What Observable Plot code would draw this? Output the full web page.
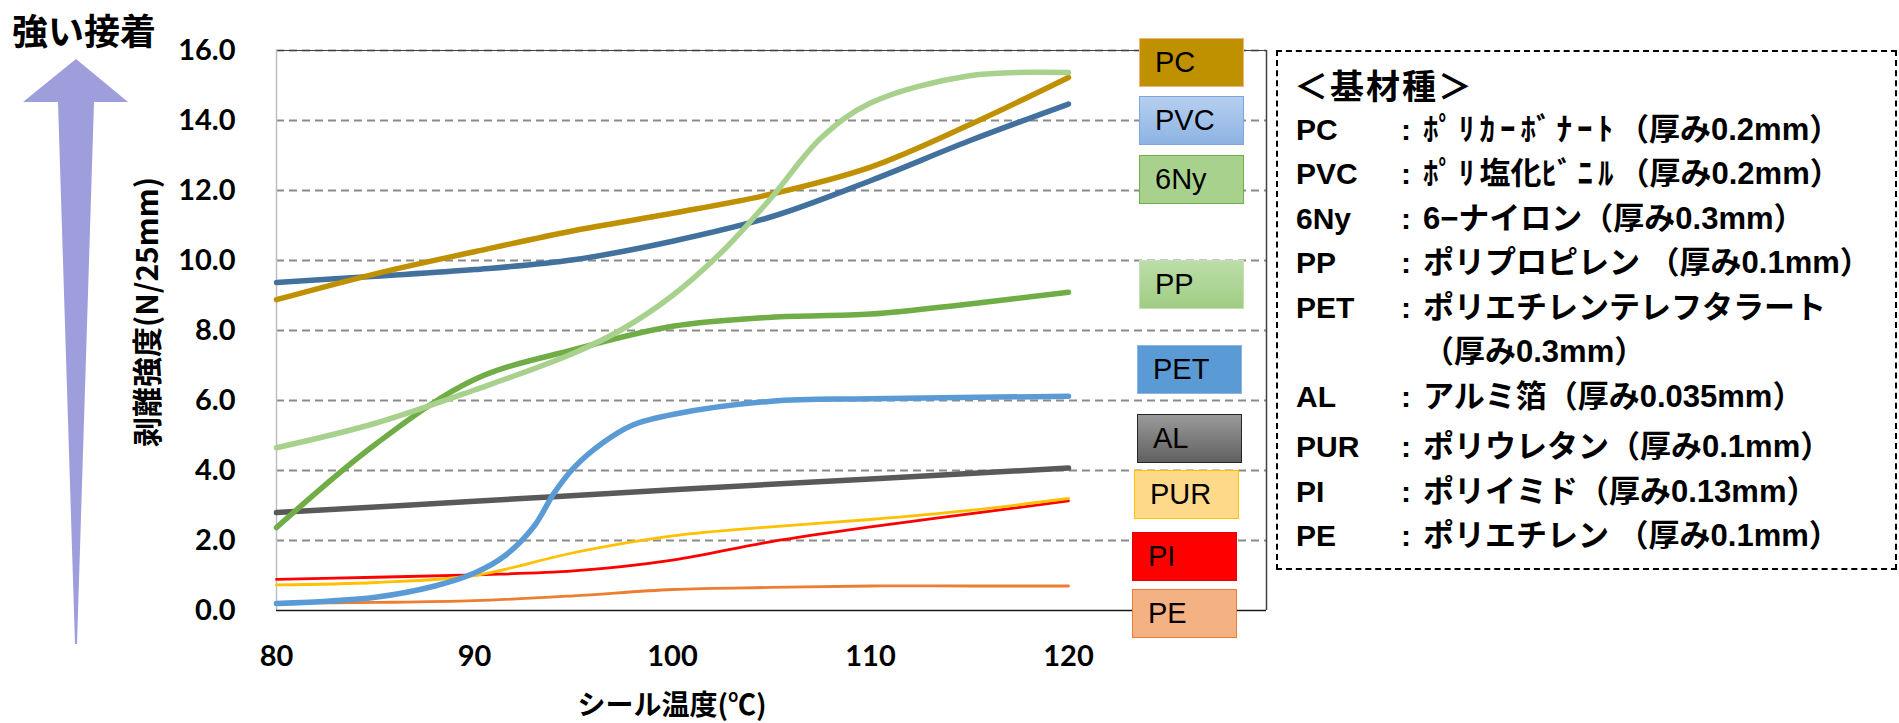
<!DOCTYPE html>
<html>
<head>
<meta charset="utf-8">
<script src="https://cdn.jsdelivr.net/npm/d3@7"></script>
<script src="https://cdn.jsdelivr.net/npm/@observablehq/plot@0.6"></script>
<style>
  body { margin: 0; background: #fff; }
  #wrap { position: relative; width: 1899px; height: 723px; background: #fff; overflow: hidden; }
  #chart { position: absolute; left: 0; top: 0; }
  .jp { font-family: "Noto Sans CJK JP", sans-serif; font-weight: 700; color: #000; position: absolute; white-space: nowrap; }
  .box { position: absolute; box-sizing: border-box; font-family: "Liberation Sans", Arial, sans-serif; font-weight: 400; font-size: 29px; color: #000; display: flex; align-items: center; }
  .lg { position: absolute; white-space: nowrap; color: #000; line-height: 1.2; }
  .hw { letter-spacing: 5px; }
</style>
</head>
<body>
<div id="wrap">
  <div id="chart"></div>
</div>
<script>
// ---------- data ----------
const temps = [80, 85, 90, 95, 100, 105, 110, 115, 120];
const pcValues  = [8.88, 9.62, 10.25, 10.85, 11.35, 11.9, 12.67, 13.88, 15.23];
const pvcValues = [9.37, 9.55, 9.74, 10.02, 10.55, 11.25, 12.28, 13.42, 14.47];
const nyValues  = [2.37, 4.75, 6.6, 7.45, 8.12, 8.38, 8.47, 8.76, 9.09];
const ppTemps   = [80, 85, 90, 95, 97.5, 100, 102.5, 105, 107.5, 110, 115, 120];
const ppValues  = [4.65, 5.35, 6.3, 7.35, 8.05, 9.0, 10.25, 11.8, 13.5, 14.5, 15.28, 15.37];
const petTemps  = [80, 85, 88, 90, 91.5, 93, 94, 95, 96.5, 98, 100, 105, 110, 120];
const petValues = [0.2, 0.38, 0.7, 1.07, 1.55, 2.4, 3.34, 4.07, 4.8, 5.3, 5.6, 5.98, 6.05, 6.12];
const alTemps   = [80, 90, 100, 110, 120];
const alValues  = [2.8, 3.12, 3.45, 3.76, 4.07];
const purValues = [0.73, 0.8, 1.0, 1.65, 2.13, 2.39, 2.6, 2.86, 3.2];
const piValues  = [0.89, 0.95, 1.02, 1.13, 1.44, 1.97, 2.39, 2.76, 3.13];
const peValues  = [0.21, 0.23, 0.28, 0.42, 0.6, 0.66, 0.7, 0.7, 0.7];

const xTicks = [80, 90, 100, 110, 120];
const yTicks = [0, 2, 4, 6, 8, 10, 12, 14, 16];

const seriesNames  = ["PC", "PVC", "6Ny", "PP", "PET", "AL", "PUR", "PI", "PE"];
const lineColors   = ["#BF9000", "#41719C", "#70AD47", "#A9D18E", "#5B9BD5", "#595959", "#FFC000", "#FF0000", "#ED7D31"];
const lineWidths   = [5.5, 5.5, 5.5, 5.5, 5.5, 5.5, 2.8, 2.8, 2.8];
const drawOrder    = ["PE", "PI", "PUR", "AL", "6Ny", "PVC", "PC", "PP", "PET"];

const boxFills   = ["#BF9000", "linear-gradient(#B6CFF0,#8DB3E2)", "#A9D18E", "linear-gradient(#BBDDA8,#A0CD84)", "#5B9BD5", "linear-gradient(#9A9A9A,#606060)", "#FFD98A", "#FF0000", "#F4B183"];
const boxBorders = ["#F4B183", "#7EA6DC", "#70AD47", "#C5E0B4", "#8DB4E2", "#262626", "#FFC000", "#E00000", "#ED7D31"];

const legendTitle = "＜基材種＞";
const legendCodes = ["PC", "PVC", "6Ny", "PP", "PET", "", "AL", "PUR", "PI", "PE"];
const legendDescs = ["ﾎﾟﾘｶｰﾎﾞﾅｰﾄ（厚み0.2mm）", "ﾎﾟﾘ塩化ﾋﾞﾆﾙ（厚み0.2mm）", "6−ナイロン（厚み0.3mm）", "ポリプロピレン （厚み0.1mm）", "ポリエチレンテレフタラート", "（厚み0.3mm）", "アルミ箔（厚み0.035mm）", "ポリウレタン（厚み0.1mm）", "ポリイミド（厚み0.13mm）", "ポリエチレン （厚み0.1mm）"];

const yTitle = "剥離強度(N/25mm)";
const xTitle = "シール温度(℃)";
const arrowTitle = "強い接着";

// ---------- build tables ----------
const seriesData = {
  PC:  temps.map((t, i) => ({x: t, y: pcValues[i]})),
  PVC: temps.map((t, i) => ({x: t, y: pvcValues[i]})),
  "6Ny": temps.map((t, i) => ({x: t, y: nyValues[i]})),
  PP:  ppTemps.map((t, i) => ({x: t, y: ppValues[i]})),
  PET: petTemps.map((t, i) => ({x: t, y: petValues[i]})),
  AL:  alTemps.map((t, i) => ({x: t, y: alValues[i]})),
  PUR: temps.map((t, i) => ({x: t, y: purValues[i]})),
  PI:  temps.map((t, i) => ({x: t, y: piValues[i]})),
  PE:  temps.map((t, i) => ({x: t, y: peValues[i]}))
};

const W = 1899, H = 723;
const lineMarks = drawOrder.map(name => {
  const k = seriesNames.indexOf(name);
  return Plot.line(seriesData[name], {
    x: "x", y: "y", stroke: lineColors[k], strokeWidth: lineWidths[k],
    curve: "catmull-rom", strokeLinecap: "round", strokeLinejoin: "round"
  });
});

const chart = Plot.plot({
  width: W, height: H,
  marginLeft: 276, marginRight: W - 1266, marginTop: 50, marginBottom: H - 610,
  style: {fontFamily: "Lato, sans-serif", fontWeight: "bold", fontSize: "29px", color: "#000", background: "transparent", overflow: "visible"},
  x: {domain: [80, 130], ticks: xTicks, tickSize: 0, tickPadding: 35, label: null},
  y: {domain: [0, 16], ticks: yTicks, tickSize: 0, tickPadding: 41, tickFormat: d3.format(".1f"), label: null},
  marks: [
    Plot.ruleY(yTicks.filter(d => d > 0), {stroke: "#8A8A8A", strokeWidth: 2, strokeDasharray: "8,5"}),
    Plot.ruleY([16], {stroke: "#404040", strokeWidth: 1.2}),
    Plot.ruleX([80], {stroke: "#BFBFBF", strokeWidth: 1.5}),
    Plot.ruleX([130], {stroke: "#404040", strokeWidth: 1.5}),
    Plot.ruleY([0], {stroke: "#1a1a1a", strokeWidth: 1.5}),
    ...lineMarks
  ]
});
document.getElementById("chart").appendChild(chart);

const wrap = document.getElementById("wrap");

// ---------- arrow and titles ----------
const ns = "http://www.w3.org/2000/svg";
const deco = document.createElementNS(ns, "svg");
deco.setAttribute("width", 200); deco.setAttribute("height", H);
deco.style.position = "absolute"; deco.style.left = "0"; deco.style.top = "0";
const arrow = document.createElementNS(ns, "polygon");
arrow.setAttribute("points", "76,59 128,102 94,102 77,644 75,644 58,102 23,102");
arrow.setAttribute("fill", "#9E9EDD");
deco.appendChild(arrow);
wrap.appendChild(deco);

function addText(txt, cls, css) {
  const d = document.createElement("div");
  d.className = cls;
  // wrap runs of half-width katakana so they can be spaced like the reference
  const parts = txt.split(/([\uFF61-\uFF9F]+)/);
  parts.forEach(p => {
    if (!p) return;
    if (/^[\uFF61-\uFF9F]+$/.test(p)) {
      const s = document.createElement("span"); s.className = "hw"; s.textContent = p; d.appendChild(s);
    } else d.appendChild(document.createTextNode(p));
  });
  Object.assign(d.style, css);
  wrap.appendChild(d);
  return d;
}
addText(arrowTitle, "jp", {left: "12px", top: "4px", fontSize: "36px", lineHeight: "1.4"});
addText(yTitle, "jp", {left: "145px", top: "312px", fontSize: "30px", lineHeight: "1.2", transform: "translate(-50%,-50%) rotate(-90deg)"});
addText(xTitle, "jp", {left: "672px", top: "704px", fontSize: "28px", lineHeight: "1.2", transform: "translate(-50%,-50%)"});

// ---------- series label boxes ----------
const boxLeft = [1139, 1139, 1139, 1139, 1137, 1137, 1134, 1132, 1132];
const boxTop  = [38, 96, 155, 260, 345, 414, 470, 532, 589];
seriesNames.forEach((name, i) => {
  const b = document.createElement("div");
  b.className = "box";
  Object.assign(b.style, {left: boxLeft[i] + "px", top: boxTop[i] + "px", width: "105px", height: "49px",
    background: boxFills[i], border: "1.5px solid " + boxBorders[i], paddingLeft: "15px"});
  b.textContent = name;
  wrap.appendChild(b);
});

// ---------- legend box ----------
const lg = document.createElement("div");
Object.assign(lg.style, {position: "absolute", left: "1276px", top: "50px", width: "621px", height: "520px",
  boxSizing: "border-box", border: "2px dashed #000"});
wrap.appendChild(lg);
addText(legendTitle, "lg", {left: "1294px", top: "85px", transform: "translateY(-50%)",
  fontFamily: "'Noto Sans CJK JP'", fontWeight: "700", fontSize: "34px", letterSpacing: "2px"});
const rowY = [130, 174, 219, 263, 308, 352, 397, 447, 492, 536];
legendDescs.forEach((desc, i) => {
  if (legendCodes[i]) {
    addText(legendCodes[i], "lg", {left: "1296px", top: rowY[i] + "px", transform: "translateY(-50%)",
      fontFamily: "'Liberation Sans', Arial", fontWeight: "700", fontSize: "30px"});
    addText(":", "lg", {left: "1401px", top: rowY[i] + "px", transform: "translateY(-50%)",
      fontFamily: "'Liberation Sans', Arial", fontWeight: "700", fontSize: "30px"});
  }
  addText(desc, "lg", {left: "1423px", top: rowY[i] + "px", transform: "translateY(-50%)",
    fontFamily: "'Liberation Sans', 'Noto Sans CJK JP'", fontWeight: "700", fontSize: "31px"});
});
</script>
</body>
</html>
